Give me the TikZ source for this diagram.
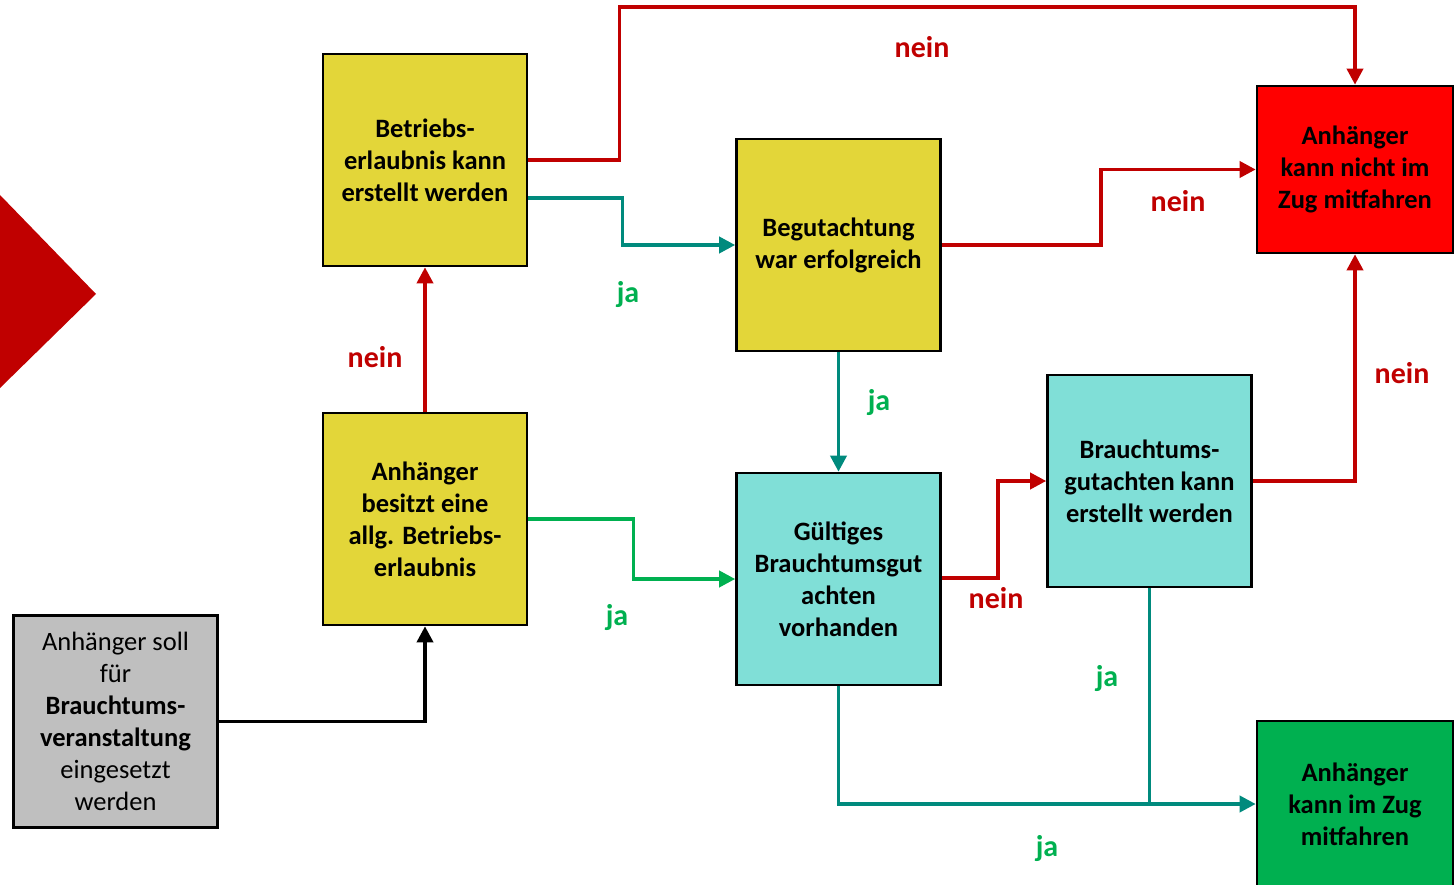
\documentclass[tikz,border=0pt]{standalone}
\usepackage{fontspec}
\setmainfont{Carlito}
\usetikzlibrary{arrows.meta}
\definecolor{boxyellow}{RGB}{227,214,57}
\definecolor{boxcyan}{RGB}{128,223,215}
\definecolor{boxred}{RGB}{255,0,0}
\definecolor{boxgreen}{RGB}{0,176,80}
\definecolor{boxgrey}{RGB}{191,191,191}
\definecolor{darkred}{RGB}{192,0,0}
\definecolor{lgreen}{RGB}{0,176,80}
\definecolor{tealline}{RGB}{0,138,125}
\tikzset{
  box/.style={draw=black, line width=2.6pt, minimum width=204pt, minimum height=212pt,
    align=center, inner sep=0pt, font=\fontsize{26.5}{32}\selectfont\bfseries,
    execute at begin node={\vspace*{6pt}}},
  conn/.style={line width=3.6pt, -{Triangle[length=16pt,width=16pt]}},
  neinline/.style={conn, draw=darkred},
  jaline/.style={conn, draw=lgreen},
  tealarrow/.style={conn, draw=tealline},
  neinlabel/.style={text=darkred, font=\fontsize{30}{36}\selectfont\bfseries},
  jalabel/.style={text=lgreen, font=\fontsize{30}{36}\selectfont\bfseries},
}
\begin{document}
\begin{tikzpicture}[x=1pt,y=-1pt]
\useasboundingbox (0,0) rectangle (1454,885);
\fill[darkred] (0,195) -- (96,294) -- (0,388) -- cycle;

\node[box, fill=boxyellow] (b1) at (425,160) {Betriebs-\\erlaubnis kann\\erstellt werden};
\node[box, fill=boxyellow] (b2) at (838.5,245) {Begutachtung\\war erfolgreich};
\node[box, fill=boxyellow] (b3) at (425,519) {Anhänger\\besitzt eine\\allg. Betriebs-\\erlaubnis};
\node[box, fill=boxcyan] (b4) at (838.5,579) {Gültiges\\Brauchtumsgut\\achten\\vorhanden};
\node[box, fill=boxcyan] (b5) at (1149.5,481) {Brauchtums-\\gutachten kann\\erstellt werden};
\node[box, fill=boxred, minimum width=196pt, minimum height=167pt] (nicht) at (1355,169.5) {Anhänger\\kann nicht im\\Zug mitfahren};
\node[box, fill=boxgreen, minimum width=196pt, minimum height=166pt] (kann) at (1355,804) {Anhänger\\kann im Zug\\mitfahren};
\node[box, fill=boxgrey, font=\fontsize{26.5}{32}\selectfont] (start) at (115.5,721.5) {Anhänger soll\\für\\\textbf{Brauchtums-}\\\textbf{veranstaltung}\\eingesetzt\\werden};

\draw[conn, draw=black] (start.east) -| (b3.south);
\draw[neinline] (b3.north) -- (b1.south);
\draw[neinline] (b1.east) -- ++(91,0) -- ++(0,-153) -| (nicht.north);
\draw[tealarrow] ([yshift=-38pt]b1.east) -- ++(94,0) |- (b2.west);
\draw[neinline] (b2.east) -- ++(159,0) |- (nicht.west);
\draw[tealarrow] (b2.south) -- (b4.north);
\draw[jaline] (b3.east) -- ++(105,0) |- (b4.west);
\draw[neinline] ([yshift=1pt]b4.east) -- ++(56,0) |- (b5.west);
\draw[neinline] (b5.east) -| (nicht.south);
\draw[tealarrow] (b4.south) |- (kann.west);
\coordinate (join) at (b5.south |- kann.west);
\draw[line width=3.6pt, draw=tealline] (b5.south) -- (join);

\node[neinlabel] (l1) at (375,357) {nein};
\node[neinlabel] (l2) at (922,47) {nein};
\node[jalabel] (l3) at (628,295) {ja};
\node[neinlabel] (l4) at (1178,201) {nein};
\node[jalabel] (l5) at (879,403) {ja};
\node[jalabel] (l6) at (617,618) {ja};
\node[neinlabel] (l7) at (996,598) {nein};
\node[neinlabel] (l8) at (1402,373) {nein};
\node[jalabel] (l9) at (1047,849) {ja};
\node[jalabel] (l10) at (1107,679) {ja};
\end{tikzpicture}
\end{document}
